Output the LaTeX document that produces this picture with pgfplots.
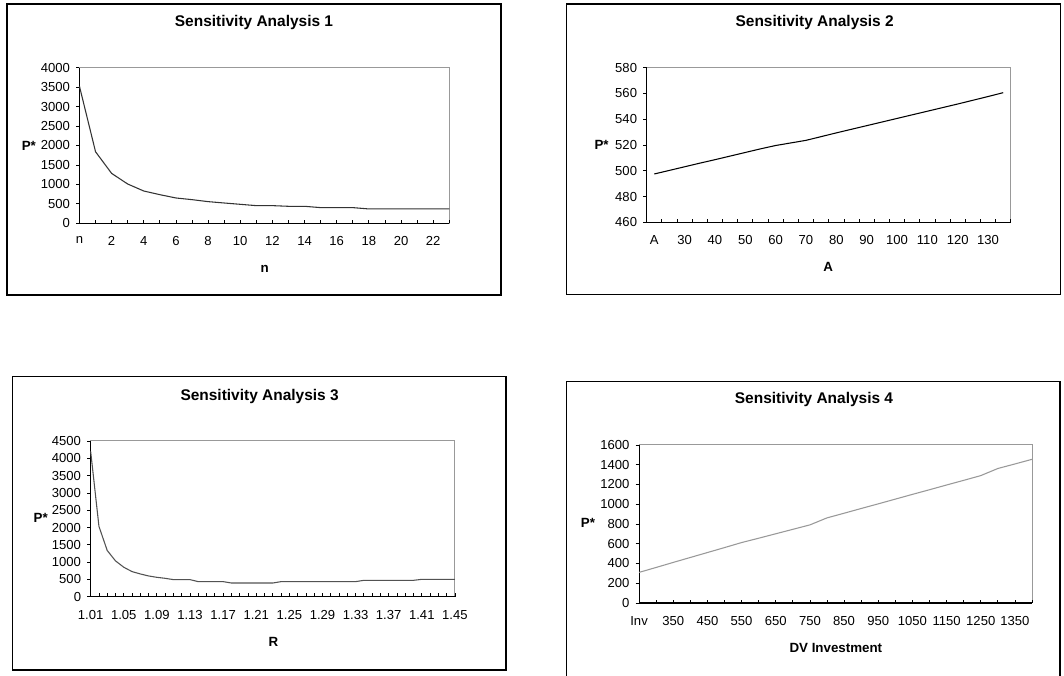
\documentclass[border=0pt]{standalone}
\usepackage{fontspec}
\setmainfont{Liberation Sans}
\usepackage{pgfplots}
\pgfplotsset{compat=1.18}

% one pixel of the 1064x675 reference = 0.75pt
\pgfplotsset{
  sens/.style={
    scale only axis, anchor=south west, clip=false,
    axis x line*=bottom, axis y line*=left,
    axis line style={black, line width=0.8pt, -},
    axis background/.style={fill=white, draw=black!40, line width=0.75pt},
    xtick align=inside, ytick align=outside,
    major tick length=2.5pt, minor tick length=2.5pt,
    tick style={black, line width=0.6pt},
    ticklabel style={font=\fontsize{9.8}{11}\selectfont},
    xticklabel shift=6.5pt, yticklabel shift=1.2pt,
    /pgf/number format/assume math mode=true,
    /pgf/number format/1000 sep={},
  },
  pline/.style={line width=0.8pt, mark=none},
}

\pgfplotstableread{
x y
0 3521
1 1838
2 1282
3 1009
4 829
5 735
6 650
7 607
8 556
9 521
10 487
11 453
12 453
13 436
14 436
15 402
16 402
17 402
18 368
19 368
20 368
21 368
22 368
23 368
}\sensone

\pgfplotstableread{
x y
0 497.5
1 500.3
2 503.1
3 505.9
4 508.6
5 511.4
6 514.2
7 517.0
8 519.6
9 521.6
10 523.6
11 526.5
12 529.4
13 532.2
14 535.0
15 537.8
16 540.6
17 543.4
18 546.2
19 549.0
20 551.8
21 554.7
22 557.6
23 560.6
}\senstwo

\pgfplotstableread{
x y
0 4200
1 2033
2 1336
3 1036
4 852
5 726
6 658
7 600
8 561
9 532
10 494
11 494
12 494
13 436
14 436
15 436
16 436
17 397
18 397
19 397
20 397
21 397
22 397
23 436
24 436
25 436
26 436
27 436
28 436
29 436
30 436
31 436
32 436
33 474
34 474
35 474
36 474
37 474
38 474
39 474
40 503
41 503
42 503
43 503
44 503
}\sensthree

\pgfplotstableread{
x y
0 310
1 360
2 411
3 461
4 511
5 561
6 612
7 656
8 701
9 746
10 791
11 862
12 909
13 957
14 1004
15 1052
16 1100
17 1147
18 1195
19 1242
20 1290
21 1362
22 1408
23 1455
}\sensfour

\begin{document}
\begin{tikzpicture}
\useasboundingbox (0,0) rectangle (798pt,506.25pt);
\fill[white] (0,0) rectangle (798pt,506.25pt);
\clip (0,0) rectangle (798pt,506.25pt);

% outer chart frames
\draw[line width=0.9pt] (5.25pt,285pt) rectangle (375.75pt,503.25pt);
\draw[line width=0.9pt] (424.9pt,285.5pt) rectangle (795.6pt,503.25pt);
\draw[line width=0.9pt] (9.4pt,3.75pt) rectangle (379.5pt,223.7pt);
\draw[line width=0.9pt] (424.9pt,-20pt) rectangle (795pt,220pt);

% Sensitivity Analysis 1
\begin{axis}[sens, at={(59.6pt,338.8pt)}, width=277.35pt, height=116.7pt,
  xmin=0, xmax=23, ymin=0, ymax=4000, ytick={0,500,...,4000},
  xtick={0,2,...,22}, minor xtick={1,3,...,23},
  xticklabels={n,2,4,6,8,10,12,14,16,18,20,22}]
  \addplot[pline, black!80] table[x=x, y=y] {\sensone};
\end{axis}

% Sensitivity Analysis 2
\begin{axis}[sens, at={(485pt,339.5pt)}, width=273.1pt, height=116pt,
  xmin=-0.5, xmax=23.5, ymin=460, ymax=580, ytick={460,480,...,580},
  xtick={0,2,...,22}, minor xtick={-0.5,0.5,...,23.5},
  every major x tick/.append style={draw=none},
  xticklabels={A,30,40,50,60,70,80,90,100,110,120,130}]
  \addplot[pline, black] table[x=x, y=y] {\senstwo};
\end{axis}

% Sensitivity Analysis 3
\begin{axis}[sens, at={(68pt,58.7pt)}, width=273.2pt, height=116.8pt,
  xmin=0, xmax=44, ymin=0, ymax=4500, ytick={0,500,...,4500},
  xtick={0,4,...,44}, minor xtick={1,...,44},
  xticklabels={1.01,1.05,1.09,1.13,1.17,1.21,1.25,1.29,1.33,1.37,1.41,1.45}]
  \addplot[pline, black!68] table[x=x, y=y] {\sensthree};
\end{axis}

% Sensitivity Analysis 4
\begin{axis}[sens, at={(479.3pt,54pt)}, width=294.7pt, height=118.5pt,
  xmin=0, xmax=23, ymin=0, ymax=1600, ytick={0,200,...,1600},
  xtick={0,2,...,22}, minor xtick={1,3,...,23},
  xticklabels={Inv,350,450,550,650,750,850,950,1050,1150,1250,1350}]
  \addplot[pline, black!40] table[x=x, y=y] {\sensfour};
\end{axis}

% titles and axis names
\begin{scope}[every node/.style={font=\bfseries\fontsize{11.6}{13}\selectfont}]
  \node at (190.5pt,489pt) {Sensitivity Analysis 1};
  \node at (611pt,489.2pt) {Sensitivity Analysis 2};
  \node at (194.7pt,208.7pt) {Sensitivity Analysis 3};
  \node at (610.5pt,206.25pt) {Sensitivity Analysis 4};
\end{scope}
\begin{scope}[every node/.style={font=\bfseries\fontsize{10}{11}\selectfont}]
  \node at (198.5pt,304.7pt) {n};
  \node at (621.2pt,306pt) {A};
  \node at (205pt,25pt) {R};
  \node at (626.9pt,20pt) {DV Investment};
  \node at (21.6pt,397pt) {P*};
  \node at (451.2pt,397.5pt) {P*};
  \node at (30.5pt,117.5pt) {P*};
  \node at (441pt,113.8pt) {P*};
\end{scope}
\end{tikzpicture}
\end{document}
